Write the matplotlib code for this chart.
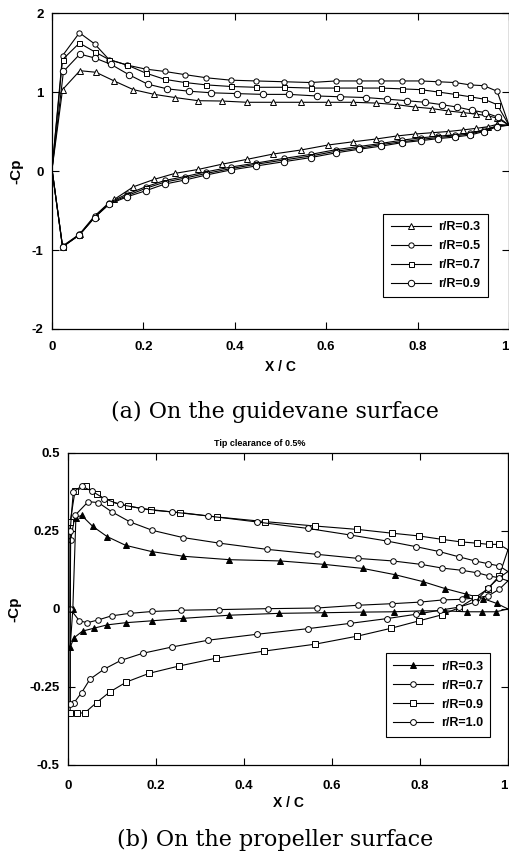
import matplotlib

matplotlib.use("Agg")
import matplotlib.pyplot as plt

plt.rcParams["font.family"] = ["Liberation Sans", "DejaVu Sans"]

INK = "black"

# (a) guidevane surface: -Cp on upper (suction) and lower (pressure) side
GV_TE_CP = 0.58
GV_LE_CP = 0.02
GV_X_TRI = [0.023, 0.061, 0.096, 0.136, 0.178, 0.224, 0.269, 0.320, 0.371, 0.427, 0.484, 0.545,
            0.605, 0.659, 0.709, 0.754, 0.794, 0.832, 0.867, 0.899, 0.928, 0.953, 0.974]
GV_X_MID = [0.023, 0.060, 0.093, 0.125, 0.165, 0.205, 0.247, 0.291, 0.338, 0.391, 0.446, 0.508,
            0.566, 0.621, 0.672, 0.721, 0.765, 0.807, 0.845, 0.882, 0.915, 0.945, 0.974]
GV_X_BIG = [0.025, 0.061, 0.094, 0.129, 0.168, 0.209, 0.252, 0.300, 0.349, 0.404, 0.461, 0.519,
            0.579, 0.630, 0.687, 0.732, 0.776, 0.816, 0.853, 0.886, 0.918, 0.947, 0.977]

GV_03_UP = [1.03, 1.27, 1.25, 1.14, 1.03, 0.97, 0.93, 0.89, 0.886, 0.87, 0.87, 0.87,
            0.87, 0.87, 0.86, 0.84, 0.81, 0.79, 0.76, 0.74, 0.72, 0.70, 0.67]
GV_03_LO = [-0.96, -0.80, -0.57, -0.36, -0.20, -0.105, -0.03, 0.02, 0.085, 0.148, 0.215, 0.266,
            0.33, 0.37, 0.405, 0.443, 0.468, 0.485, 0.50, 0.52, 0.54, 0.56, 0.59]
GV_05_UP = [1.46, 1.75, 1.61, 1.41, 1.34, 1.29, 1.26, 1.22, 1.18, 1.15, 1.14, 1.13,
            1.12, 1.14, 1.14, 1.14, 1.14, 1.14, 1.13, 1.12, 1.09, 1.08, 1.01]
GV_05_LO = [-0.95, -0.80, -0.57, -0.40, -0.29, -0.20, -0.12, -0.07, -0.01, 0.05, 0.10, 0.16,
            0.21, 0.27, 0.31, 0.35, 0.39, 0.42, 0.44, 0.46, 0.48, 0.52, 0.57]
GV_07_UP = [1.41, 1.62, 1.51, 1.41, 1.34, 1.24, 1.16, 1.12, 1.09, 1.07, 1.06, 1.06,
            1.05, 1.05, 1.05, 1.05, 1.04, 1.03, 1.00, 0.97, 0.94, 0.91, 0.84]
GV_07_LO = [-0.96, -0.81, -0.58, -0.41, -0.31, -0.22, -0.14, -0.09, -0.03, 0.03, 0.085, 0.14,
            0.19, 0.25, 0.29, 0.335, 0.37, 0.40, 0.425, 0.445, 0.47, 0.51, 0.57]
GV_09_UP = [1.26, 1.48, 1.43, 1.35, 1.22, 1.10, 1.04, 1.01, 0.99, 0.98, 0.97, 0.97,
            0.95, 0.94, 0.93, 0.91, 0.89, 0.87, 0.84, 0.81, 0.77, 0.74, 0.68]
GV_09_LO = [-0.96, -0.81, -0.59, -0.42, -0.325, -0.25, -0.165, -0.114, -0.05, 0.013, 0.063, 0.118,
            0.17, 0.23, 0.275, 0.316, 0.358, 0.384, 0.41, 0.43, 0.455, 0.50, 0.56]

# (b) propeller surface, tip clearance 0.5%
PR_03_XU = [0.011, 0.018, 0.031, 0.056, 0.089, 0.131, 0.190, 0.262, 0.367, 0.482, 0.582, 0.670,
            0.743, 0.806, 0.858, 0.904, 0.944, 0.974]
PR_03_UP = [0.0, 0.293, 0.30, 0.265, 0.232, 0.204, 0.184, 0.169, 0.158, 0.154, 0.143, 0.130,
            0.110, 0.088, 0.065, 0.048, 0.033, 0.018]
PR_03_XL = [0.005, 0.014, 0.033, 0.058, 0.089, 0.131, 0.190, 0.262, 0.367, 0.480, 0.582, 0.670,
            0.742, 0.805, 0.857, 0.906, 0.942, 0.973]
PR_03_LO = [-0.122, -0.092, -0.071, -0.062, -0.051, -0.044, -0.038, -0.030, -0.020, -0.014, -0.012, -0.010,
            -0.009, -0.006, -0.006, -0.009, -0.009, -0.009]
PR_07_XU = [0.006, 0.016, 0.046, 0.069, 0.099, 0.141, 0.192, 0.261, 0.344, 0.453, 0.567, 0.660,
            0.738, 0.802, 0.851, 0.895, 0.930, 0.957, 0.980]
PR_07_UP = [0.22, 0.30, 0.344, 0.341, 0.312, 0.279, 0.252, 0.229, 0.211, 0.191, 0.175, 0.162,
            0.154, 0.143, 0.131, 0.124, 0.116, 0.106, 0.10]
PR_07_XL = [0.005, 0.026, 0.044, 0.069, 0.099, 0.141, 0.192, 0.258, 0.343, 0.454, 0.565, 0.660,
            0.737, 0.800, 0.852, 0.895, 0.930, 0.955, 0.980]
PR_07_LO = [0.0, -0.038, -0.044, -0.035, -0.022, -0.014, -0.008, -0.004, -0.002, 0.001, 0.003, 0.012,
            0.017, 0.022, 0.029, 0.031, 0.036, 0.042, 0.063]
PR_09_XU = [0.005, 0.016, 0.041, 0.065, 0.095, 0.137, 0.188, 0.255, 0.338, 0.448, 0.561, 0.658,
            0.736, 0.798, 0.851, 0.893, 0.929, 0.957, 0.980]
PR_09_UP = [0.28, 0.378, 0.394, 0.367, 0.344, 0.330, 0.317, 0.309, 0.295, 0.280, 0.266, 0.255,
            0.243, 0.234, 0.223, 0.215, 0.211, 0.207, 0.207]
PR_09_XL = [0.005, 0.021, 0.039, 0.065, 0.095, 0.133, 0.185, 0.252, 0.336, 0.446, 0.561, 0.658,
            0.734, 0.798, 0.849, 0.889, 0.925, 0.955, 0.980]
PR_09_LO = [-0.332, -0.335, -0.332, -0.300, -0.266, -0.234, -0.206, -0.183, -0.158, -0.135, -0.113, -0.087,
            -0.062, -0.038, -0.019, 0.004, 0.036, 0.065, 0.106]
PR_10_XU = [0.005, 0.012, 0.031, 0.054, 0.082, 0.118, 0.167, 0.236, 0.319, 0.429, 0.546, 0.642,
            0.724, 0.790, 0.844, 0.889, 0.925, 0.955, 0.980]
PR_10_UP = [0.25, 0.375, 0.394, 0.378, 0.354, 0.335, 0.322, 0.311, 0.298, 0.279, 0.258, 0.237,
            0.218, 0.200, 0.184, 0.167, 0.154, 0.145, 0.138]
PR_10_XL = [0.005, 0.014, 0.031, 0.050, 0.082, 0.120, 0.170, 0.236, 0.319, 0.430, 0.546, 0.642,
            0.724, 0.791, 0.845, 0.889, 0.925, 0.955, 0.980]
PR_10_LO = [-0.303, -0.300, -0.268, -0.225, -0.193, -0.165, -0.142, -0.122, -0.100, -0.081, -0.063, -0.046,
            -0.031, -0.017, -0.004, 0.006, 0.022, 0.068, 0.100]
PR_TE = {"0.3": 0.0, "0.7": 0.09, "0.9": 0.19, "1.0": 0.12}

X_TICKS = [0, 0.2, 0.4, 0.6, 0.8, 1]
X_TICKLABELS = ["0", "0.2", "0.4", "0.6", "0.8", "1"]
GV_YTICKS = [-2, -1, 0, 1, 2]
GV_YTICKLABELS = ["-2", "-1", "0", "1", "2"]
PR_YTICKS = [-0.5, -0.25, 0, 0.25, 0.5]
PR_YTICKLABELS = ["-0.5", "-0.25", "0", "0.25", "0.5"]


def loop(ax, xl, lo, xu, up, te, le, label, marker, ms, face):
    # walk TE -> lower surface -> LE -> upper surface -> TE
    xs = [1.0] + xl[::-1] + ([0.0] if le is not None else []) + xu + [1.0]
    ys = [te] + lo[::-1] + ([le] if le is not None else []) + up + [te]
    skip = 1 if le is not None else 0
    marks = list(range(1, 1 + len(xl))) + list(range(1 + len(xl) + skip, len(xs) - 1))
    ax.plot(xs, ys, color=INK, linewidth=0.8, marker=marker, markersize=ms,
            markerfacecolor=face, markeredgecolor=INK, markeredgewidth=0.7,
            markevery=marks, label=label)


def style(ax, yticks, yticklabels, xpad, labelpad):
    ax.set_xlim(0, 1)
    ax.set_xticks(X_TICKS)
    ax.set_xticklabels(X_TICKLABELS)
    ax.set_yticks(yticks)
    ax.set_yticklabels(yticklabels)
    ax.set_ylim(yticks[0], yticks[-1])
    ax.tick_params(direction="in", length=5, width=0.8, top=True, right=True,
                   labelsize=9.5, pad=6)
    ax.tick_params(axis="x", pad=xpad)
    for lab in ax.get_xticklabels() + ax.get_yticklabels():
        lab.set_fontweight("bold")
    ax.get_xticklabels()[-1].set_horizontalalignment("right")
    for s in ax.spines.values():
        s.set_linewidth(0.9)
    ax.set_xlabel("X / C", fontsize=10, fontweight="bold", labelpad=labelpad)
    ax.set_ylabel("-Cp", fontsize=11, fontweight="bold", labelpad=6)


def legend(ax, anchor):
    leg = ax.legend(loc="lower right", bbox_to_anchor=anchor, fancybox=False,
                    edgecolor=INK, framealpha=1, handlelength=3.2, handletextpad=0.6,
                    borderpad=0.6, labelspacing=0.55, prop={"weight": "bold", "size": 9})
    leg.get_frame().set_linewidth(0.8)


fig = plt.figure(figsize=(5.1, 8.51), dpi=100)

ax1 = fig.add_axes([0.102, 0.6134, 0.896, 0.3713])
loop(ax1, GV_X_TRI, GV_03_LO, GV_X_TRI, GV_03_UP, GV_TE_CP, GV_LE_CP, "r/R=0.3", "^", 4, "white")
loop(ax1, GV_X_MID, GV_05_LO, GV_X_MID, GV_05_UP, GV_TE_CP, GV_LE_CP, "r/R=0.5", "o", 3.8, "white")
loop(ax1, GV_X_MID, GV_07_LO, GV_X_MID, GV_07_UP, GV_TE_CP, GV_LE_CP, "r/R=0.7", "s", 3.6, "white")
loop(ax1, GV_X_MID, GV_09_LO, GV_X_BIG, GV_09_UP, GV_TE_CP, GV_LE_CP, "r/R=0.9", "o", 4.6, "white")
style(ax1, GV_YTICKS, GV_YTICKLABELS, 9, 5)
legend(ax1, (0.968, 0.08))

ax2 = fig.add_axes([0.1333, 0.1011, 0.8627, 0.3666])
loop(ax2, PR_03_XL, PR_03_LO, PR_03_XU, PR_03_UP, PR_TE["0.3"], None, "r/R=0.3", "^", 4, INK)
loop(ax2, PR_07_XL, PR_07_LO, PR_07_XU, PR_07_UP, PR_TE["0.7"], None, "r/R=0.7", "o", 4, "white")
loop(ax2, PR_09_XL, PR_09_LO, PR_09_XU, PR_09_UP, PR_TE["0.9"], None, "r/R=0.9", "s", 3.8, "white")
loop(ax2, PR_10_XL, PR_10_LO, PR_10_XU, PR_10_UP, PR_TE["1.0"], None, "r/R=1.0", "o", 4.2, "white")
style(ax2, PR_YTICKS, PR_YTICKLABELS, 11, 3)
legend(ax2, (0.974, 0.07))
fig.text(260 / 510, 1 - 443 / 851, "Tip clearance of 0.5%", ha="center", va="center",
         fontsize=6.5, fontweight="bold")

fig.text(275 / 510, 1 - 412 / 851, "(a) On the guidevane surface", ha="center", va="center",
         fontsize=16, family="DejaVu Serif")
fig.text(275 / 510, 1 - 840 / 851, "(b) On the propeller surface", ha="center", va="center",
         fontsize=16, family="DejaVu Serif")

fig.savefig("out.png", dpi=100, facecolor="white")
